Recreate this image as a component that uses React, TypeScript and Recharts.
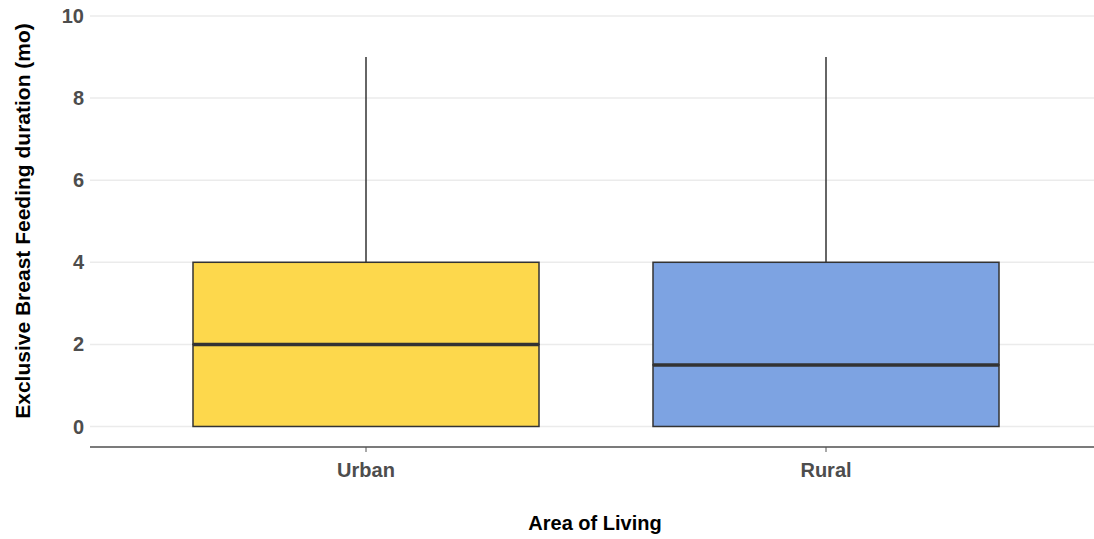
import { Bar, CartesianGrid, ComposedChart, XAxis, YAxis } from "recharts";

const areas = ["Urban", "Rural"];
const minVals = [0, 0];
const q1Vals = [0, 0];
const medianVals = [2, 1.5];
const q3Vals = [4, 4];
const maxVals = [9, 9];
const boxFills = ["#FDD84C", "#7DA3E2"];
const yTicks = [0, 2, 4, 6, 8, 10];

const rows = areas.map((area, i) => ({
  area,
  fill: boxFills[i],
  base: minVals[i],
  lowWhisker: q1Vals[i] - minVals[i],
  lowBox: medianVals[i] - q1Vals[i],
  highBox: q3Vals[i] - medianVals[i],
  highWhisker: maxVals[i] - q3Vals[i],
}));

const INK = "#333333";

const Whisker = (props: any) => {
  const { x, y, width, height } = props;
  const cx = x + width / 2;
  return <line x1={cx} x2={cx} y1={y} y2={y + height} stroke={INK} strokeWidth={1.5} />;
};

const LowBox = (props: any) => {
  const { x, y, width, height, payload } = props;
  return (
    <rect x={x} y={y} width={width} height={height} fill={payload.fill} stroke={INK} strokeWidth={1.5} />
  );
};

const HighBox = (props: any) => {
  const { x, y, width, height, payload } = props;
  return (
    <g>
      <rect x={x} y={y} width={width} height={height} fill={payload.fill} stroke={INK} strokeWidth={1.5} />
      <line x1={x} x2={x + width} y1={y + height} y2={y + height} stroke={INK} strokeWidth={3.5} />
    </g>
  );
};

const tickStyle = {
  fill: "#4D4D4D",
  fontSize: 20,
  fontWeight: 700,
  fontFamily: "Liberation Sans, Arial, sans-serif",
};

export default function App() {
  return (
    <div style={{ position: "absolute", left: 0, top: 0, background: "#fff" }}>
      <ComposedChart
        width={1094}
        height={539}
        data={rows}
        margin={{ top: 16, right: 0, left: 0, bottom: 0 }}
      >
        <CartesianGrid stroke="#EBEBEB" strokeWidth={1.5} vertical={false} />
        <XAxis
          dataKey="area"
          height={92}
          padding={{ left: 46, right: 38 }}
          tick={tickStyle}
          tickSize={5}
          tickMargin={11}
          tickLine={{ stroke: "#555" }}
          axisLine={{ stroke: "#555", strokeWidth: 1.5 }}
          label={(p: any) => (
            <text
              x={595}
              y={530}
              textAnchor="middle"
              fontFamily="Liberation Sans, Arial, sans-serif"
              fontWeight={700}
              fontSize={20}
              fill="#000"
            >
              Area of Living
            </text>
          )}
        />
        <YAxis
          type="number"
          domain={[-0.5, 10]}
          ticks={yTicks}
          width={90}
          tick={tickStyle}
          tickLine={false}
          axisLine={false}
          tickSize={0}
          tickMargin={6}
          label={(p: any) => (
            <text
              x={22}
              y={221}
              transform="rotate(-90 22 221)"
              textAnchor="middle"
              dominantBaseline="central"
              fontFamily="Liberation Sans, Arial, sans-serif"
              fontWeight={700}
              fontSize={21}
              fill="#000"
            >
              Exclusive Breast Feeding duration (mo)
            </text>
          )}
        />
        <Bar dataKey="base" stackId="box" barSize={346} fill="none" isAnimationActive={false} />
        <Bar dataKey="lowWhisker" stackId="box" barSize={346} shape={Whisker} isAnimationActive={false} />
        <Bar dataKey="lowBox" stackId="box" barSize={346} shape={LowBox} isAnimationActive={false} />
        <Bar dataKey="highBox" stackId="box" barSize={346} shape={HighBox} isAnimationActive={false} />
        <Bar dataKey="highWhisker" stackId="box" barSize={346} shape={Whisker} isAnimationActive={false} />
      </ComposedChart>
    </div>
  );
}
